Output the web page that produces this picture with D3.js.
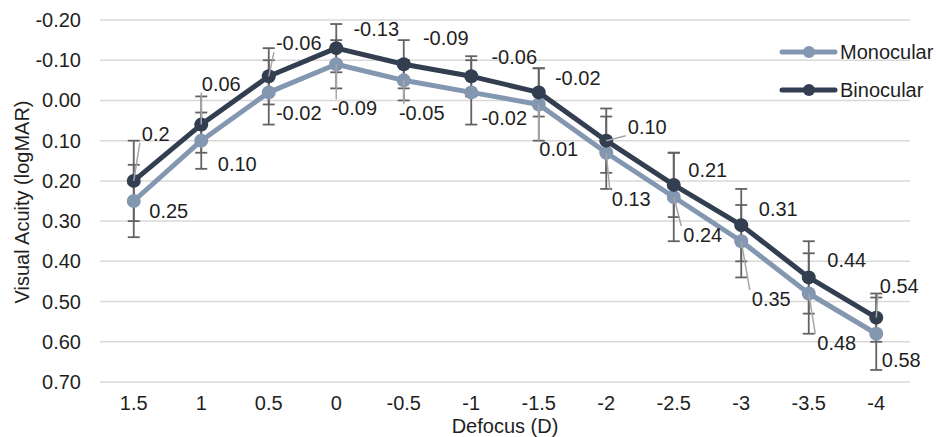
<!DOCTYPE html>
<html lang="en">
<head>
    <meta charset="UTF-8">
    <title>Visual Acuity vs Defocus</title>
    <script src="https://cdnjs.cloudflare.com/ajax/libs/d3/7.8.5/d3.min.js"></script>
    <style>
        body {
            margin: 0;
            background: #fff;
        }

        svg {
            display: block;
            font-family: "Liberation Sans", Arial, sans-serif;
        }

        .tick-label, .axis-title, .data-label, .legend-label {
            font-size: 20px;
            fill: #1f1f1f;
        }
    </style>
</head>
<body>
    <svg id="chart" width="936" height="437"></svg>

    <script>
        // categories and values
        const defocus = ["1.5", "1", "0.5", "0", "-0.5", "-1", "-1.5", "-2", "-2.5", "-3", "-3.5", "-4"];
        const monocular = [0.25, 0.10, -0.02, -0.09, -0.05, -0.02, 0.01, 0.13, 0.24, 0.35, 0.48, 0.58];
        const binocular = [0.20, 0.06, -0.06, -0.13, -0.09, -0.06, -0.02, 0.10, 0.21, 0.31, 0.44, 0.54];
        const monocularErr = [0.09, 0.07, 0.08, 0.06, 0.05, 0.08, 0.09, 0.09, 0.11, 0.09, 0.10, 0.09];
        const binocularErr = [0.10, 0.07, 0.07, 0.06, 0.06, 0.05, 0.06, 0.08, 0.08, 0.09, 0.09, 0.06];
        const monocularLabels = ["0.25", "0.10", "-0.02", "-0.09", "-0.05", "-0.02", "0.01", "0.13", "0.24", "0.35", "0.48", "0.58"];
        const binocularLabels = ["0.2", "0.06", "-0.06", "-0.13", "-0.09", "-0.06", "-0.02", "0.10", "0.21", "0.31", "0.44", "0.54"];
        const yTicks = [-0.2, -0.1, 0, 0.1, 0.2, 0.3, 0.4, 0.5, 0.6, 0.7];

        // label placement (pixel offsets from the point) and whether a leader line is drawn
        const monocularLabelPos = [[35, 10], [36, 23], [30, 21], [18, 44], [18, 33], [33, 26], [20, 45], [25, 46], [29, 38], [30, 58], [28, 49], [25, 26]];
        const monocularLeader = [false, false, false, true, true, false, true, true, true, true, true, false];
        const binocularLabelPos = [[22, -47], [20, -41], [30, -33], [40, -19], [42, -26], [43, -19], [39, -14], [41, -14], [34, -15], [37, -16], [38, -17], [23, -32]];
        const binocularLeader = [true, true, true, false, false, false, false, true, false, false, false, true];

        const series = [
            { name: "Monocular", values: monocular, err: monocularErr, labels: monocularLabels,
              pos: monocularLabelPos, leader: monocularLeader, color: "#8497b0" },
            { name: "Binocular", values: binocular, err: binocularErr, labels: binocularLabels,
              pos: binocularLabelPos, leader: binocularLeader, color: "#333f50" }
        ];

        const plot = { left: 100, right: 910, top: 20, bottom: 382 };
        const svg = d3.select("#chart");

        const x = d3.scaleBand()
            .domain(defocus)
            .range([plot.left, plot.right]);

        const y = d3.scaleLinear()
            .domain([-0.2, 0.7])
            .range([plot.top, plot.bottom]);

        const cx = d => x(d) + x.bandwidth() / 2;
        const fmt = v => {
            const s = Math.abs(v).toFixed(2);
            return (v < -1e-9 ? "-" : "") + s;
        };

        // gridlines
        svg.append("g")
            .selectAll("line")
            .data(yTicks)
            .join("line")
            .attr("x1", plot.left)
            .attr("x2", plot.right)
            .attr("y1", d => y(d))
            .attr("y2", d => y(d))
            .attr("stroke", "#d9d9d9")
            .attr("stroke-width", 1.5);

        // y axis labels
        svg.append("g")
            .selectAll("text")
            .data(yTicks)
            .join("text")
            .attr("class", "tick-label")
            .attr("x", 81)
            .attr("y", d => y(d))
            .attr("dy", "0.35em")
            .attr("text-anchor", "end")
            .text(fmt);

        // x axis labels
        svg.append("g")
            .selectAll("text")
            .data(defocus)
            .join("text")
            .attr("class", "tick-label")
            .attr("x", cx)
            .attr("y", 403)
            .attr("dy", "0.35em")
            .attr("text-anchor", "middle")
            .text(d => d);

        svg.append("text")
            .attr("class", "axis-title")
            .attr("x", (plot.left + plot.right) / 2)
            .attr("y", 426)
            .attr("dy", "0.35em")
            .attr("text-anchor", "middle")
            .text("Defocus (D)");

        svg.append("text")
            .attr("class", "axis-title")
            .attr("transform", "translate(22,202) rotate(-90)")
            .attr("dy", "0.35em")
            .attr("text-anchor", "middle")
            .text("Visual Acuity (logMAR)");

        // error bars
        const capHalf = 6;
        series.forEach(s => {
            const g = svg.append("g")
                .attr("stroke", "#636363")
                .attr("stroke-width", 1.8);
            s.values.forEach((v, i) => {
                const px = cx(defocus[i]);
                const y0 = y(v - s.err[i]);
                const y1 = y(v + s.err[i]);
                g.append("line").attr("x1", px).attr("x2", px).attr("y1", y0).attr("y2", y1);
                g.append("line").attr("x1", px - capHalf).attr("x2", px + capHalf).attr("y1", y0).attr("y2", y0);
                g.append("line").attr("x1", px - capHalf).attr("x2", px + capHalf).attr("y1", y1).attr("y2", y1);
            });
        });

        // lines and markers
        const line = d3.line()
            .x((d, i) => cx(defocus[i]))
            .y(d => y(d));

        series.forEach(s => {
            svg.append("path")
                .datum(s.values)
                .attr("d", line)
                .attr("fill", "none")
                .attr("stroke", s.color)
                .attr("stroke-width", 5)
                .attr("stroke-linejoin", "round");

            svg.append("g")
                .selectAll("circle")
                .data(s.values)
                .join("circle")
                .attr("cx", (d, i) => cx(defocus[i]))
                .attr("cy", d => y(d))
                .attr("r", 7)
                .attr("fill", s.color);
        });

        // data labels with leader lines
        series.forEach(s => {
            const g = svg.append("g");
            s.values.forEach((v, i) => {
                const px = cx(defocus[i]);
                const py = y(v);
                const tx = px + s.pos[i][0];
                const ty = py + s.pos[i][1];
                const t = g.append("text")
                    .attr("class", "data-label")
                    .attr("x", tx)
                    .attr("y", ty)
                    .attr("dy", "0.35em")
                    .attr("text-anchor", "middle")
                    .text(s.labels[i]);

                if (s.leader[i]) {
                    const hw = t.node().getComputedTextLength() / 2 + 2;
                    const hh = 9;
                    const ex = Math.max(tx - hw, Math.min(px, tx + hw));
                    const ey = Math.max(ty - hh, Math.min(py, ty + hh));
                    g.insert("line", "text")
                        .attr("x1", px)
                        .attr("y1", py)
                        .attr("x2", ex)
                        .attr("y2", ey)
                        .attr("stroke", "#a6a6a6")
                        .attr("stroke-width", 1.5);
                }
            });
        });

        // legend
        const legend = svg.append("g");
        series.forEach((s, i) => {
            const ly = 52 + i * 38;
            legend.append("line")
                .attr("x1", 782)
                .attr("x2", 835)
                .attr("y1", ly)
                .attr("y2", ly)
                .attr("stroke", s.color)
                .attr("stroke-width", 5)
                .attr("stroke-linecap", "round");
            legend.append("circle")
                .attr("cx", 809)
                .attr("cy", ly)
                .attr("r", 6)
                .attr("fill", s.color);
            legend.append("text")
                .attr("class", "legend-label")
                .attr("x", 840)
                .attr("y", ly)
                .attr("dy", "0.35em")
                .text(s.name);
        });
    </script>
</body>
</html>
